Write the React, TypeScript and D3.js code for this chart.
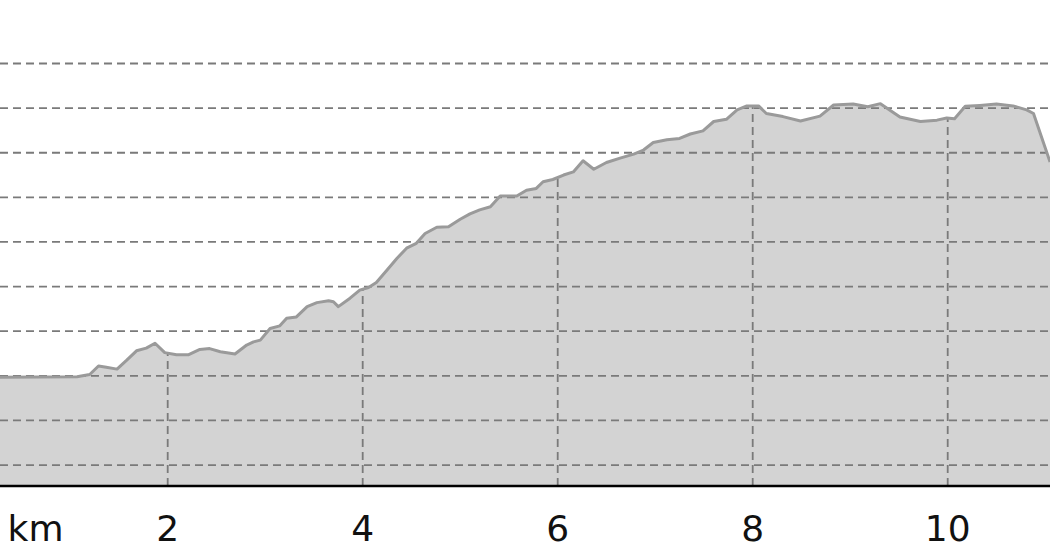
import React, { useMemo } from 'react';
import * as d3 from 'd3';

// distance along the route (km) and elevation (m)
const distanceKm = [
  0.28, 1.07, 1.2, 1.29, 1.37, 1.48, 1.58, 1.68, 1.78, 1.87, 1.97, 2.09, 2.21, 2.33, 2.43, 2.54,
  2.69, 2.81, 2.88, 2.95, 3.05, 3.15, 3.22, 3.32, 3.43, 3.53, 3.65, 3.7, 3.75, 3.87, 3.97, 4.06,
  4.14, 4.25, 4.35, 4.45, 4.55, 4.64, 4.76, 4.88, 5.0, 5.1, 5.2, 5.31, 5.41, 5.58, 5.68, 5.78,
  5.85, 5.95, 6.06, 6.16, 6.26, 6.37, 6.5, 6.64, 6.78, 6.88, 6.98, 7.12, 7.25, 7.36, 7.49, 7.6,
  7.73, 7.84, 7.94, 8.06, 8.14, 8.31, 8.49, 8.69, 8.83, 9.03, 9.18, 9.31, 9.51, 9.72, 9.89, 9.99,
  10.07, 10.18, 10.33, 10.5, 10.67, 10.81, 10.88, 11.05,
];
const elevationM = [
  319.7, 319.8, 320.3, 322.2, 321.9, 321.5, 323.5, 325.6, 326.2, 327.3, 325.2, 324.7, 324.7, 325.9, 326.1, 325.4,
  324.9, 326.9, 327.6, 328.0, 330.6, 331.2, 332.9, 333.2, 335.5, 336.4, 336.8, 336.6, 335.5, 337.4, 339.2, 339.8,
  340.9, 343.7, 346.3, 348.6, 349.7, 351.9, 353.3, 353.4, 355.1, 356.3, 357.2, 357.9, 360.3, 360.3, 361.6, 362.0,
  363.5, 364.0, 365.0, 365.7, 368.2, 366.3, 367.8, 368.8, 369.7, 370.6, 372.3, 372.9, 373.2, 374.2, 374.9, 377.0,
  377.5, 379.6, 380.5, 380.5, 378.8, 378.1, 377.1, 378.2, 380.7, 380.9, 380.3, 381.0, 378.0, 377.0, 377.3, 377.8,
  377.6, 380.4, 380.6, 380.9, 380.5, 379.6, 378.8, 367.9,
];
const xTicks = [2, 4, 6, 8, 10];
const elevationGrid = [300, 310, 320, 330, 340, 350, 360, 370, 380, 390];
const unitLabel = 'km';

const W = 1050;
const H = 560;

export default function App() {
  const points = useMemo(() => distanceKm.map((d, i) => ({ d, e: elevationM[i] })), []);

  const x = d3.scaleLinear().domain([2, 10]).range([167.7, 947.7]);
  const y = d3.scaleLinear().domain([295.3, 390]).range([486, 63.5]);
  const base = y.range()[0];

  const area = d3.area<{ d: number; e: number }>()
    .x(p => x(p.d))
    .y0(base)
    .y1(p => y(p.e));
  const line = d3.line<{ d: number; e: number }>()
    .x(p => x(p.d))
    .y(p => y(p.e));

  const areaPath = area(points) || '';
  const font = '"DejaVu Sans", Verdana, sans-serif';

  return (
    <div style={{ position: 'fixed', left: 0, top: 0 }}>
      <svg width={W} height={H} viewBox={`0 0 ${W} ${H}`} style={{ display: 'block', background: '#fff' }}>
        <defs>
          <clipPath id="profile-clip">
            <path d={areaPath} />
          </clipPath>
          <clipPath id="plot-clip">
            <rect x={0} y={0} width={W} height={base} />
          </clipPath>
        </defs>

        <path d={areaPath} fill="#d3d3d3" />

        {/* horizontal grid */}
        {elevationGrid.map(v => (
          <line key={v} x1={0} x2={W} y1={y(v)} y2={y(v)}
            stroke="#7a7a7a" strokeWidth={1.8} strokeDasharray="8,5" />
        ))}

        {/* vertical grid, only inside the profile */}
        <g clipPath="url(#profile-clip)">
          {xTicks.map(t => (
            <line key={t} x1={x(t)} x2={x(t)} y1={base} y2={0}
              stroke="#7a7a7a" strokeWidth={1.8} strokeDasharray="8,5" />
          ))}
        </g>

        <path d={line(points) || ''} fill="none" stroke="#9a9a9a" strokeWidth={3}
          strokeLinejoin="round" clipPath="url(#plot-clip)" />

        <line x1={0} x2={W} y1={base} y2={base} stroke="#000" strokeWidth={2.6} />

        <text x={35.5} y={541} textAnchor="middle" fontFamily={font} fontSize={36} fill="#111">{unitLabel}</text>
        {xTicks.map(t => (
          <text key={t} x={x(t)} y={541} textAnchor="middle" fontFamily={font} fontSize={36} fill="#111">{t}</text>
        ))}
      </svg>
    </div>
  );
}
